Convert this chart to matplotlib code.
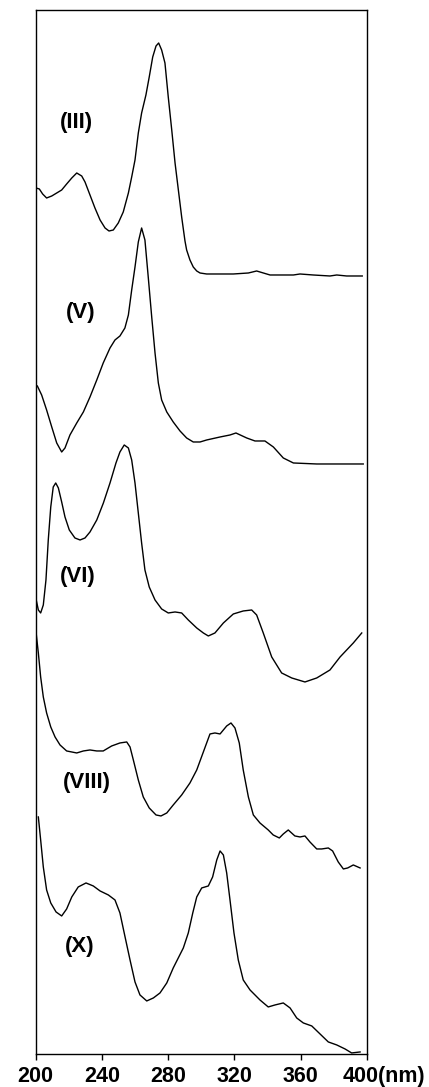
import matplotlib
matplotlib.use("Agg")
import matplotlib.pyplot as plt

# UV spectra of compounds III, V, VI, VIII, X (stacked, arbitrary offsets)

wl_3 = [200.2, 202.2, 204.2, 206.6, 209.7, 212.7, 215.7, 218.7, 221.8, 224.8, 227.8, 229.8, 232.8,
        235.8, 238.9, 241.9, 244.3, 246.9, 249.9, 252.9, 256, 258, 260, 262, 264, 266.6, 268.6,
        270.7, 272.7, 274.3, 276.1, 278.1, 280.1, 282.2, 284.2, 286.2, 288.2, 290.2, 291.2, 293.2,
        295.2, 297.3, 299.3, 303.3, 319.4, 328.5, 333.5, 341.6, 355.7, 359.7, 367.7, 377.8,
        381.9, 387.9, 397.3]
abs_3 = [8.66, 8.65, 8.60, 8.56, 8.58, 8.61, 8.64, 8.70, 8.76, 8.81, 8.78, 8.72, 8.59, 8.46, 8.34,
         8.26, 8.23, 8.24, 8.31, 8.42, 8.61, 8.77, 8.94, 9.21, 9.41, 9.59, 9.77, 9.97, 10.08,
         10.11, 10.04, 9.91, 9.57, 9.24, 8.91, 8.64, 8.37, 8.13, 8.04, 7.94, 7.87, 7.83, 7.81,
         7.80, 7.80, 7.81, 7.83, 7.79, 7.79, 7.80, 7.79, 7.78, 7.79, 7.78, 7.78]

wl_5 = [201, 203.6, 206.6, 209.7, 212.7, 215.7, 217.7, 220.7, 224.8, 228.8, 232.8, 236.9, 240.8,
        244.9, 247.9, 250.9, 253.9, 256, 258, 260, 262, 264, 266, 268, 270.1, 272.1, 274.1,
        276.1, 279.2, 283.1, 287.2, 291.2, 295.2, 299.3, 303.3, 311.4, 317.4, 321, 327.5, 332.5,
        338.5, 343.6, 349.6, 355.7, 369.8, 389.9, 397.9]
abs_5 = [6.68, 6.59, 6.44, 6.27, 6.11, 6.02, 6.06, 6.19, 6.31, 6.42, 6.57, 6.74, 6.91, 7.06, 7.14,
         7.18, 7.26, 7.39, 7.64, 7.87, 8.12, 8.26, 8.14, 7.77, 7.37, 7.01, 6.71, 6.54, 6.42, 6.32,
         6.23, 6.16, 6.12, 6.12, 6.14, 6.17, 6.19, 6.21, 6.16, 6.13, 6.13, 6.07, 5.96, 5.91, 5.90,
         5.90, 5.90]

wl_6 = [200.2, 201.6, 203, 204.6, 206.2, 207.6, 209.1, 210.6, 212.1, 213.7, 215.7, 217.7, 220.3,
        223.7, 226.8, 229.8, 232.8, 236.9, 240.9, 244.9, 248.5, 250.9, 253.5, 256, 258, 260, 262,
        264, 266, 268.6, 272.1, 276.1, 280.1, 284.2, 288.2, 292.2, 297.3, 301.3, 304.3, 308.3,
        313.4, 319.4, 325.4, 330.5, 333.5, 337.5, 342.6, 348.6, 354.7, 362.7, 369.8, 377.8,
        383.9, 391.9, 397]
abs_6 = [4.55, 4.44, 4.41, 4.49, 4.74, 5.14, 5.47, 5.67, 5.71, 5.66, 5.52, 5.37, 5.24, 5.16, 5.14,
         5.16, 5.22, 5.34, 5.51, 5.71, 5.91, 6.02, 6.09, 6.06, 5.94, 5.71, 5.41, 5.11, 4.84, 4.67,
         4.54, 4.45, 4.41, 4.42, 4.41, 4.34, 4.26, 4.21, 4.18, 4.21, 4.31, 4.40, 4.43, 4.44, 4.39,
         4.21, 3.97, 3.81, 3.76, 3.72, 3.76, 3.84, 3.97, 4.11, 4.21]

wl_8 = [200.2, 201.6, 203, 204.6, 206.6, 209.1, 211.7, 214.7, 218.7, 224.8, 228.8, 232.8, 236.9,
        240.8, 245.9, 250.9, 255, 257, 259, 262, 265, 268.6, 272.7, 275.7, 279.2, 283.1, 288.2,
        293.2, 297.3, 301.3, 305.3, 308.3, 311.4, 315.4, 318, 320.4, 323, 325.4, 328.5, 331.5,
        335.5, 340.5, 343.5, 347.2, 349.6, 352.6, 356.6, 359.7, 362.7, 365.7, 369.8, 372.8,
        376.8, 379.4, 382.8, 385.9, 388.5, 391.9, 396]
abs_8 = [4.22, 4.01, 3.77, 3.57, 3.41, 3.27, 3.17, 3.09, 3.03, 3.01, 3.03, 3.04, 3.03, 3.03, 3.08,
         3.11, 3.12, 3.07, 2.94, 2.74, 2.57, 2.46, 2.39, 2.38, 2.41, 2.49, 2.59, 2.71, 2.84, 3.02,
         3.20, 3.21, 3.20, 3.28, 3.31, 3.26, 3.11, 2.84, 2.57, 2.39, 2.31, 2.24, 2.19, 2.16, 2.20,
         2.24, 2.18, 2.17, 2.18, 2.12, 2.05, 2.05, 2.06, 2.03, 1.92, 1.85, 1.86, 1.89, 1.86]

wl_10 = [201.6, 203, 204.6, 206.6, 209.1, 212.3, 215.7, 218.7, 221.8, 225.7, 230.4, 234.8, 238.9,
         243.9, 247.9, 250.9, 254, 257, 260, 263, 267.1, 271.1, 275.1, 279.2, 283.1, 289.2,
         292.2, 294.9, 297.3, 300.3, 304.3, 306.9, 309.4, 311.4, 313.4, 315.4, 317.4, 319.8,
         322.4, 325.4, 329.5, 335.5, 340.5, 344.6, 349.6, 353.7, 357.7, 361.7, 366.8, 371.8,
         376.8, 381.9, 386.9, 390.9, 396]
abs_10 = [2.37, 2.14, 1.87, 1.64, 1.51, 1.42, 1.38, 1.45, 1.57, 1.67, 1.71, 1.68, 1.63, 1.59, 1.54,
          1.41, 1.17, 0.94, 0.72, 0.59, 0.53, 0.56, 0.61, 0.71, 0.86, 1.06, 1.21, 1.41, 1.57, 1.66,
          1.68, 1.77, 1.94, 2.03, 1.99, 1.81, 1.54, 1.21, 0.94, 0.74, 0.64, 0.54, 0.47, 0.49, 0.51,
          0.46, 0.36, 0.31, 0.28, 0.20, 0.12, 0.09, 0.05, 0.01, 0.02]

labels = ["(III)", "(V)", "(VI)", "(VIII)", "(X)"]
label_x = [224.8, 227.4, 225.7, 231.2, 226.3]
label_y = [9.31, 7.41, 4.77, 2.71, 1.07]

xticks = [200, 240, 280, 320, 360, 400]

plt.rcParams['font.family'] = ['Liberation Sans', 'DejaVu Sans']

fig = plt.figure(figsize=(4.29, 10.87), dpi=100)
ax = fig.add_axes([0.0832, 0.0304, 0.7716, 0.9604])

for wl, ab in [(wl_3, abs_3), (wl_5, abs_5), (wl_6, abs_6), (wl_8, abs_8), (wl_10, abs_10)]:
    ax.plot(wl, ab, color="black", linewidth=1.0)

for lab, lx, ly in zip(labels, label_x, label_y):
    ax.text(lx, ly, lab, ha="center", va="center", fontsize=16, fontweight="bold")

ax.set_xlim(200, 400)
ax.set_ylim(0, 10.44)
ax.set_yticks([])
ax.set_xticks(xticks)
ax.set_xticklabels([str(t) for t in xticks[:-1]] + [""], fontsize=15.5, fontweight="bold")
ax.tick_params(axis="x", direction="out", length=4.3, width=1, pad=4.5)
for sp in ax.spines.values():
    sp.set_linewidth(1.0)

# last label carries the unit
ax.annotate("400(nm)", xy=(0.928, 0), xycoords="axes fraction", xytext=(0, -8.8),
            textcoords="offset points", ha="left", va="top", fontsize=15.5, fontweight="bold")

fig.savefig("out.png", dpi=100)
